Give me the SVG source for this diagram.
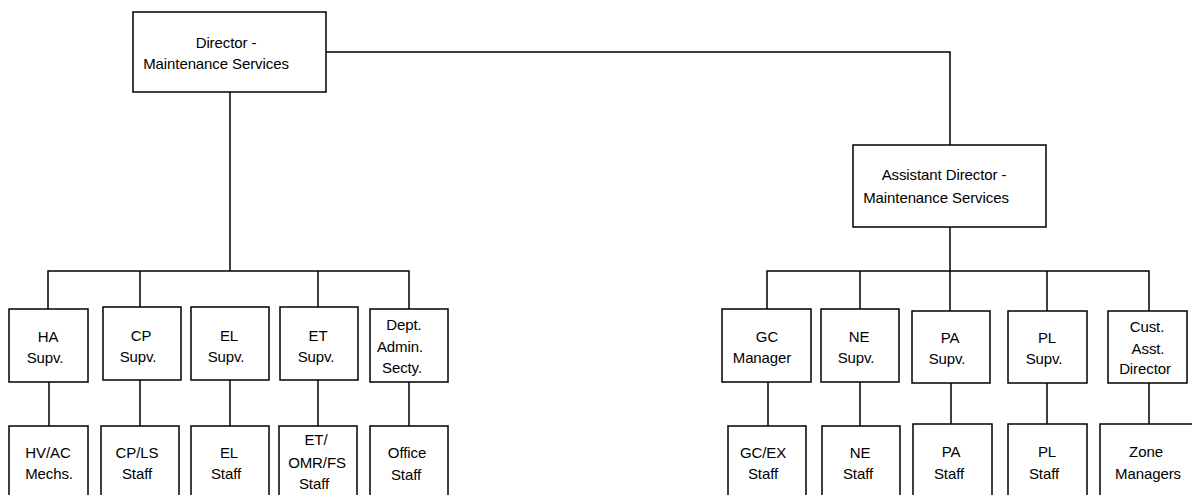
<svg xmlns="http://www.w3.org/2000/svg" width="1192" height="495" viewBox="0 0 1192 495">
<style>
rect{fill:#fff;stroke:#000;stroke-width:1.5}
.c line,.c path{stroke:#000;stroke-width:1.5;fill:none}
text{font-family:"Liberation Sans",Arial,sans-serif;font-size:15px;letter-spacing:-0.1px;text-anchor:middle;fill:#000}
</style>
<rect x="0" y="0" width="1192" height="495" style="stroke:none"/>
<g class="c" id="connectors">
<path d="M326,52 H950 V145"/>
<path d="M230,92 V271"/>
<path d="M48,309 V271 H409 V309"/>
<path d="M140,271 V307"/>
<path d="M318,271 V307"/>
<path d="M49,382 V426"/>
<path d="M140,380 V426"/>
<path d="M230,380 V426"/>
<path d="M318,380 V426"/>
<path d="M409,382 V426"/>
<path d="M950,227 V311"/>
<path d="M767,309 V271 H1149 V311"/>
<path d="M860,271 V309"/>
<path d="M1047,271 V311"/>
<path d="M768,382 V426"/>
<path d="M860,382 V426"/>
<path d="M951,383 V424"/>
<path d="M1047,383 V424"/>
<path d="M1149,383 V424"/>
</g>
<g id="director"><rect x="133" y="12" width="193" height="80"/><text x="226" y="48">Director -</text><text x="216" y="69">Maintenance Services</text></g>
<g id="asst-director"><rect x="853" y="145" width="193" height="82"/><text x="944" y="180">Assistant Director -</text><text x="936" y="203">Maintenance Services</text></g>
<g id="ha-supv"><rect x="9" y="309" width="79" height="73"/><text x="48" y="342">HA</text><text x="45" y="363">Supv.</text></g>
<g id="cp-supv"><rect x="103" y="307" width="78" height="73"/><text x="141" y="341">CP</text><text x="138" y="362">Supv.</text></g>
<g id="el-supv"><rect x="191" y="307" width="78" height="73"/><text x="229" y="341">EL</text><text x="226" y="362">Supv.</text></g>
<g id="et-supv"><rect x="280" y="307" width="78" height="73"/><text x="318" y="341">ET</text><text x="316" y="362">Supv.</text></g>
<g id="dept-admin"><rect x="370" y="309" width="78" height="73"/><text x="404" y="330">Dept.</text><text x="400" y="352">Admin.</text><text x="402" y="373">Secty.</text></g>
<g id="hvac"><rect x="9" y="426" width="79" height="80"/><text x="48" y="458">HV/AC</text><text x="49" y="479">Mechs.</text></g>
<g id="cpls"><rect x="101" y="426" width="78" height="80"/><text x="137" y="458">CP/LS</text><text x="137" y="479">Staff</text></g>
<g id="el-staff"><rect x="191" y="426" width="78" height="80"/><text x="229" y="458">EL</text><text x="226" y="479">Staff</text></g>
<g id="et-staff"><rect x="279" y="426" width="78" height="80"/><text x="316" y="445">ET/</text><text x="317" y="468">OMR/FS</text><text x="314" y="489">Staff</text></g>
<g id="office-staff"><rect x="370" y="426" width="78" height="80"/><text x="407" y="458">Office</text><text x="406" y="480">Staff</text></g>
<g id="gc-manager"><rect x="722" y="309" width="89" height="73"/><text x="767" y="342">GC</text><text x="762" y="363">Manager</text></g>
<g id="ne-supv"><rect x="821" y="309" width="78" height="73"/><text x="859" y="342">NE</text><text x="856" y="363">Supv.</text></g>
<g id="pa-supv"><rect x="912" y="311" width="78" height="72"/><text x="950" y="343">PA</text><text x="947" y="364">Supv.</text></g>
<g id="pl-supv"><rect x="1008" y="311" width="79" height="72"/><text x="1047" y="343">PL</text><text x="1044" y="364">Supv.</text></g>
<g id="cust-asst"><rect x="1108" y="311" width="79" height="72"/><text x="1147" y="332">Cust.</text><text x="1148" y="354">Asst.</text><text x="1145" y="374">Director</text></g>
<g id="gcex-staff"><rect x="728" y="426" width="78" height="80"/><text x="763" y="458">GC/EX</text><text x="763" y="479">Staff</text></g>
<g id="ne-staff"><rect x="822" y="426" width="78" height="80"/><text x="860" y="458">NE</text><text x="858" y="479">Staff</text></g>
<g id="pa-staff"><rect x="913" y="424" width="79" height="82"/><text x="951" y="457">PA</text><text x="949" y="479">Staff</text></g>
<g id="pl-staff"><rect x="1008" y="424" width="79" height="82"/><text x="1047" y="457">PL</text><text x="1044" y="479">Staff</text></g>
<g id="zone-managers"><rect x="1100" y="424" width="98" height="82"/><text x="1146" y="457">Zone</text><text x="1148" y="479">Managers</text></g>
</svg>
